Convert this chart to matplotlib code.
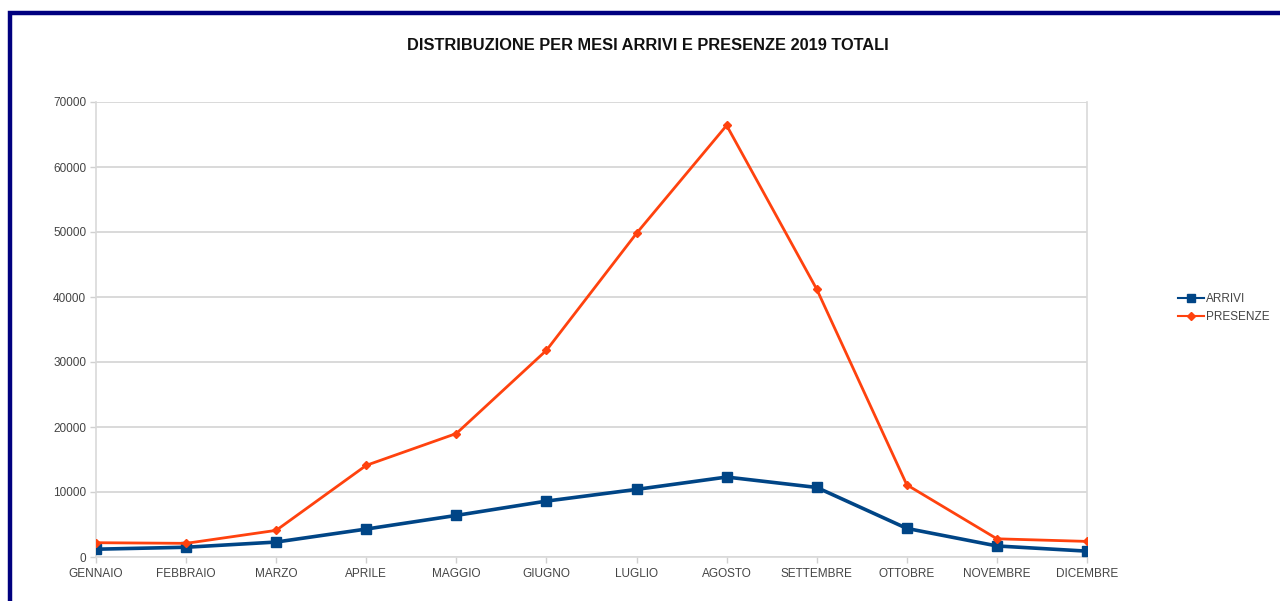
import matplotlib
matplotlib.use("Agg")
import matplotlib.pyplot as plt
from matplotlib.patches import Rectangle

months = ["GENNAIO", "FEBBRAIO", "MARZO", "APRILE", "MAGGIO", "GIUGNO",
          "LUGLIO", "AGOSTO", "SETTEMBRE", "OTTOBRE", "NOVEMBRE", "DICEMBRE"]
arrivi = [1200, 1500, 2300, 4300, 6400, 8600, 10400, 12300, 10700, 4400, 1700, 900]
presenze = [2200, 2100, 4100, 14100, 19000, 31800, 49800, 66400, 41200, 11100, 2800, 2400]
yticks = [0, 10000, 20000, 30000, 40000, 50000, 60000, 70000]

plt.rcParams['font.family'] = ['Liberation Sans', 'DejaVu Sans']

fig = plt.figure(figsize=(12.8, 6.01), dpi=100)
fig.patch.set_facecolor('white')
ax = fig.add_axes([96/1280, 1 - 557/601, (1087-96)/1280, (557-102)/601])

x = list(range(len(months)))
ax.plot(x, arrivi, color='#004586', lw=2.6, marker='s', ms=7, label='ARRIVI', zorder=3)
ax.plot(x, presenze, color='#ff420e', lw=2.0, marker='D', ms=4, label='PRESENZE', zorder=4)

ax.set_xlim(0, len(months) - 1)
ax.set_ylim(0, 70000)
ax.set_yticks(yticks)
ax.set_yticklabels([str(v) for v in yticks])
ax.set_xticks(x)
ax.set_xticklabels(months)
ax.grid(axis='y', color='#d9d9d9', lw=1.4)
ax.set_axisbelow(True)
for s in ['left', 'bottom', 'right', 'top']:
    ax.spines[s].set_color('#d9d9d9')
    ax.spines[s].set_linewidth(1.2)
ax.spines['top'].set_visible(False)
ax.tick_params(axis='both', colors='#d0d0d0', labelcolor='#444444', labelsize=8.5, length=4, width=1)
ax.tick_params(axis='x', pad=4)
ax.tick_params(axis='y', pad=3)

fig.text(648/1280, 1 - 46/601, "DISTRIBUZIONE PER MESI ARRIVI E PRESENZE 2019 TOTALI",
         ha='center', va='center', fontsize=11.8, fontweight='bold', color='#111111')

leg = ax.legend(loc='center left', bbox_to_anchor=(1172/1280, 1 - 308/601),
                bbox_transform=fig.transFigure, frameon=False, fontsize=8.5,
                handlelength=2.2, handletextpad=0.2, labelspacing=0.45, borderpad=0)
for t in leg.get_texts():
    t.set_color('#444444')
for ln in leg.get_lines():
    ln.set_linewidth(1.5)
leg.get_lines()[0].set_markersize(6)

fig.add_artist(Rectangle((9.5/1280, -0.2), 1.5, 1.2 - 12.5/601, transform=fig.transFigure,
                         fill=False, ec='#00007f', lw=3.2, zorder=10))

fig.savefig('out.png', dpi=100, facecolor='white')
